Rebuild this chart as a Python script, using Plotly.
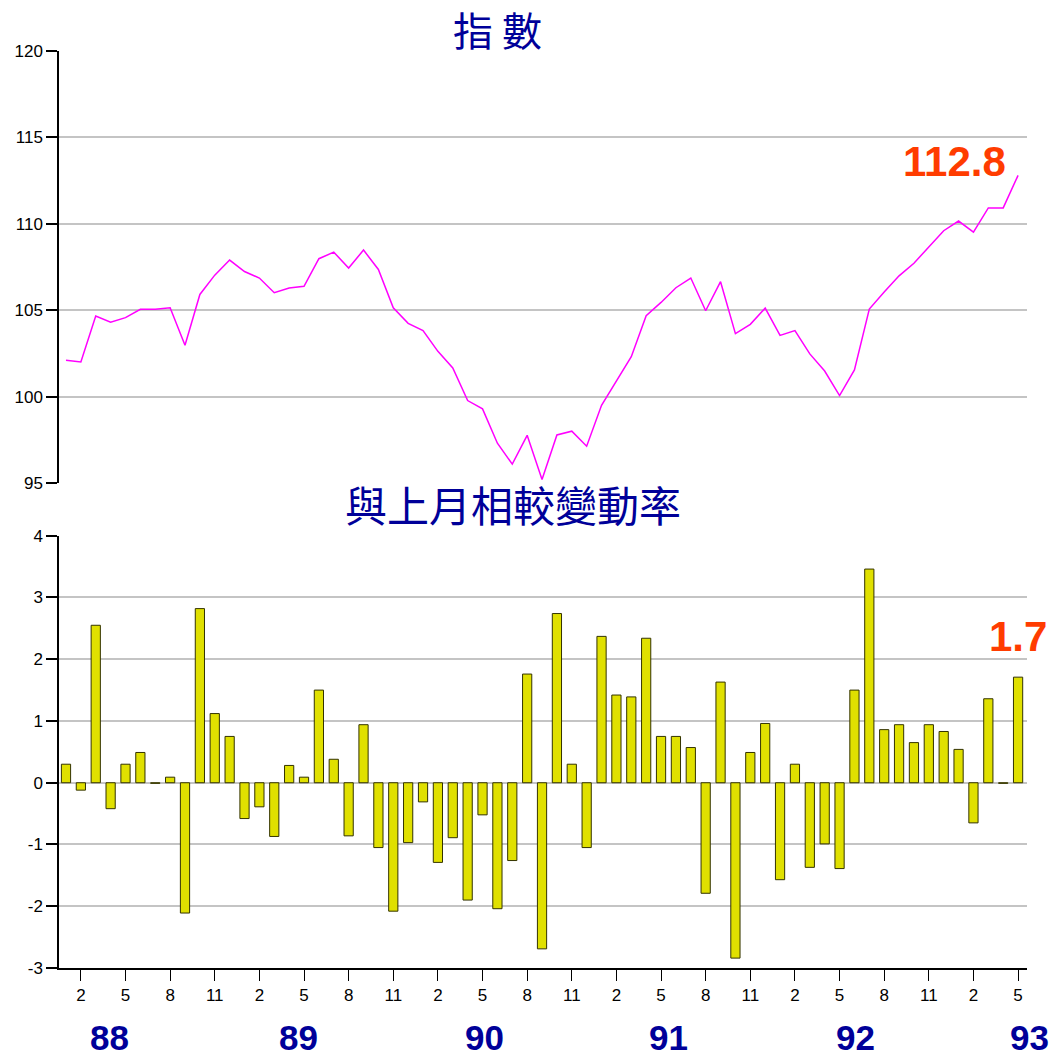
import plotly.graph_objects as go
from plotly.subplots import make_subplots

# ---- data ----
years = [88, 89, 90, 91, 92, 93]
months = [(y, m) for y in range(88, 94) for m in range(1, 13)][:65]
month_labels = [f"{y}/{m}" for y, m in months]

index_values = [
    102.1, 102.0, 104.66, 104.3, 104.57, 105.05, 105.05, 105.14, 102.97, 105.91,
    107.03, 107.9, 107.24, 106.86, 106.01, 106.28, 106.38, 107.98, 108.36, 107.44,
    108.48, 107.36, 105.14, 104.24, 103.82, 102.62, 101.66, 99.77, 99.29, 97.3,
    96.09, 97.76, 95.2, 97.78, 98.0, 97.13, 99.5, 100.92, 102.31, 104.68,
    105.45, 106.3, 106.86, 104.97, 106.65, 103.64, 104.18, 105.12, 103.54, 103.82,
    102.47, 101.48, 100.06, 101.54, 105.07, 106.05, 106.99, 107.72, 108.63, 109.6,
    110.16, 109.52, 110.92, 110.92, 112.8,
]

change_values = [
    0.30, -0.12, 2.55, -0.42, 0.30, 0.49, -0.01, 0.09, -2.11, 2.82,
    1.12, 0.75, -0.58, -0.39, -0.87, 0.28, 0.09, 1.50, 0.38, -0.86,
    0.94, -1.05, -2.08, -0.97, -0.31, -1.29, -0.89, -1.90, -0.52, -2.04,
    -1.26, 1.76, -2.69, 2.74, 0.30, -1.05, 2.37, 1.42, 1.39, 2.34,
    0.75, 0.75, 0.57, -1.79, 1.63, -2.84, 0.49, 0.96, -1.57, 0.30,
    -1.37, -0.99, -1.39, 1.50, 3.46, 0.86, 0.94, 0.65, 0.94, 0.83,
    0.54, -0.65, 1.36, -0.01, 1.71,
]

tick_months = [2, 5, 8, 11]
year_label_pos = [2.9, 15.6, 28.1, 40.5, 53.1, 64.8]
index_ticks = [95, 100, 105, 110, 115, 120]
change_ticks = [-3, -2, -1, 0, 1, 2, 3, 4]

# ---- figure ----
x = list(range(len(month_labels)))
tickvals = [i for i, (y, m) in enumerate(months) if m in tick_months]
ticktext = [str(months[i][1]) for i in tickvals]

fig = make_subplots(rows=2, cols=1, shared_xaxes=False, vertical_spacing=0.0)

fig.add_trace(go.Scatter(
    x=x, y=index_values, mode="lines",
    line=dict(color="#ff00ff", width=1.5),
    hovertext=month_labels, showlegend=False,
), row=1, col=1)

fig.add_trace(go.Bar(
    x=x, y=change_values, width=0.62,
    marker=dict(color="#e0e000", line=dict(color="#333300", width=1)),
    hovertext=month_labels, showlegend=False,
), row=2, col=1)

xr = [-0.47, 64.6]
grid = "#c4c4c4"
yfont = dict(family="Liberation Sans, Arial, sans-serif", size=17, color="#000000")
xfont = dict(family="Liberation Sans, Arial, sans-serif", size=17, color="#000000")

fig.update_layout(
    width=1050, height=1058,
    margin=dict(l=59, r=23, t=51, b=90),
    paper_bgcolor="white", plot_bgcolor="white",
    xaxis=dict(domain=[0, 1], range=xr, showticklabels=False, ticks="",
               showgrid=False, showline=False, zeroline=False, anchor="y"),
    yaxis=dict(domain=[0.5289, 1], range=[95, 120],
               tickvals=index_ticks, ticktext=[str(v) for v in index_ticks],
               showgrid=True, gridcolor=grid, gridwidth=1.5,
               showline=True, linecolor="black", linewidth=1.5,
               ticks="outside", ticklen=11, tickcolor="black", tickwidth=1.5,
               zeroline=False, tickfont=yfont, anchor="x"),
    xaxis2=dict(domain=[0, 1], range=xr, tickvals=tickvals, ticktext=ticktext,
                showgrid=False, showline=True, linecolor="black", linewidth=2,
                ticks="outside", ticklen=11, tickcolor="black", tickwidth=1.2,
                zeroline=False, tickfont=xfont, anchor="y2"),
    yaxis2=dict(domain=[0, 0.4714], range=[-3, 4],
                tickvals=change_ticks, ticktext=[str(v) for v in change_ticks],
                showgrid=True, gridcolor=grid, gridwidth=1.5,
                showline=True, linecolor="black", linewidth=1.5,
                ticks="outside", ticklen=11, tickcolor="black", tickwidth=1.5,
                zeroline=False, tickfont=yfont, anchor="x2"),
)

cjk = "Noto Sans CJK TC, Noto Sans CJK SC, sans-serif"
annotations = [
    dict(text="指 數", xref="paper", yref="paper", x=0.453, y=1.024,
         xanchor="center", yanchor="middle", showarrow=False,
         font=dict(family=cjk, size=40, color="#000099")),
    dict(text="與上月相較變動率", xref="paper", yref="paper", x=0.469, y=0.507,
         xanchor="center", yanchor="middle", showarrow=False,
         font=dict(family=cjk, size=42, color="#000099")),
    dict(text=f"<b>{index_values[-1]:.1f}</b>", xref="x", yref="y",
         x=x[-1], y=index_values[-1], xanchor="right", yanchor="bottom",
         xshift=-10, yshift=-12, showarrow=False,
         font=dict(family="Liberation Sans, Arial, sans-serif", size=42, color="#ff3c00")),
    dict(text=f"<b>{change_values[-1]:.1f}</b>", xref="x2", yref="y2",
         x=x[-1], y=change_values[-1], xanchor="center", yanchor="bottom",
         yshift=15, showarrow=False,
         font=dict(family="Liberation Sans, Arial, sans-serif", size=42, color="#ff3c00")),
]
for pos, yr in zip(year_label_pos, years):
    annotations.append(dict(
        text=f"<b>{yr}</b>", xref="paper", yref="paper",
        x=(pos - xr[0]) / (xr[1] - xr[0]), y=-0.0763,
        xanchor="center", yanchor="middle", showarrow=False,
        font=dict(family="Liberation Sans, Arial, sans-serif", size=35, color="#000099")))
fig.update_layout(annotations=annotations)

fig.write_html("out.html", config={"displayModeBar": False},
               post_script="document.body.style.margin='0px';")
